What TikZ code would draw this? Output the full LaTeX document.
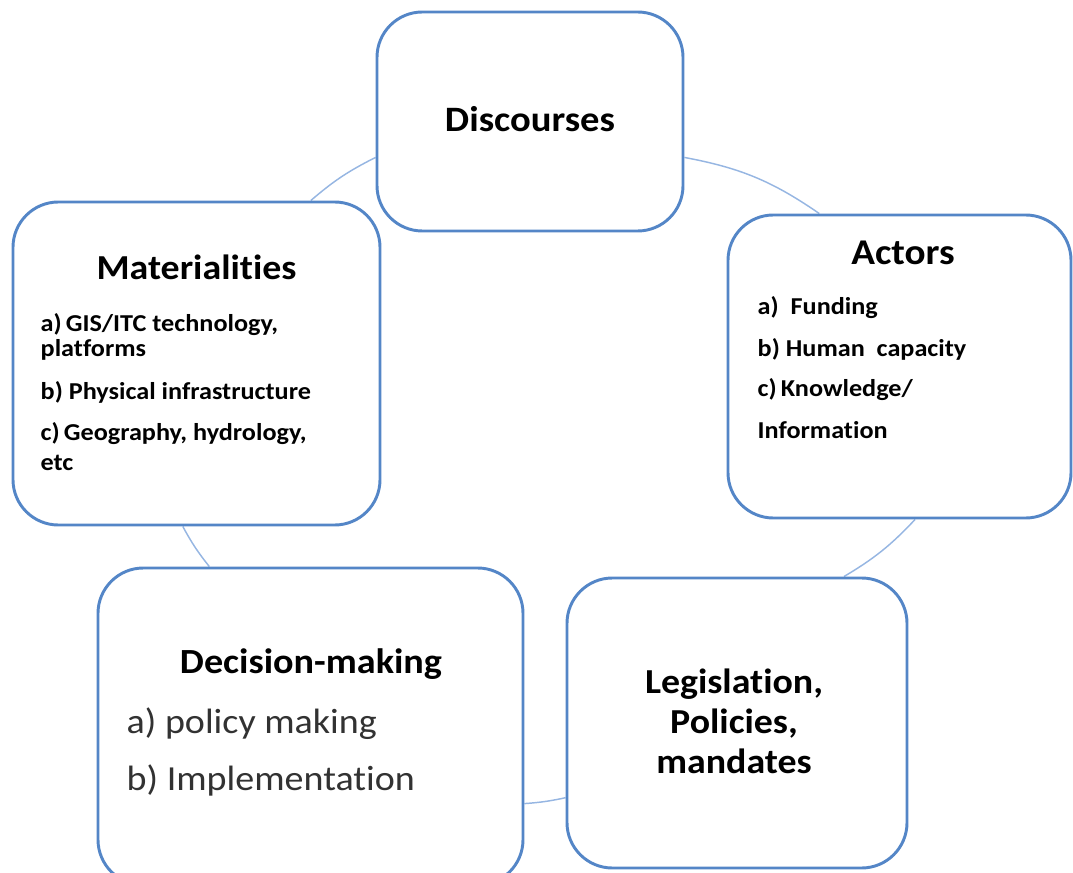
\documentclass[tikz,border=0pt]{standalone}
\usepackage{fontspec}
\setmainfont{Carlito}[FakeStretch=1.08, Ligatures=NoCommon]
\usetikzlibrary{calc,backgrounds}
\definecolor{boxblue}{RGB}{84,134,199}
\definecolor{linkblue}{RGB}{150,182,226}
\definecolor{itemgray}{RGB}{50,50,50}

\begin{document}
\begin{tikzpicture}[x=0.75pt,y=0.75pt,
  panel/.style={draw=boxblue, line width=2.2pt, fill=white, rounded corners=34pt, inner sep=0pt},
  link/.style={draw=linkblue, line width=1.1pt},
  headbig/.style={anchor=base, font=\bfseries\fontsize{26.8}{32}\selectfont},
  headmid/.style={anchor=base, font=\bfseries\fontsize{26.5}{31}\selectfont},
  smallitem/.style={anchor=base west, font=\bfseries\fontsize{18.2}{22}\selectfont},
  largeitem/.style={anchor=base west, text=itemgray, font=\fontsize{26.4}{31}\selectfont},
]
\useasboundingbox (0,0) rectangle (1073,872);
\clip (0,0) rectangle (1073,872);

% the five panels of the cycle
\node[panel, minimum width=229.5pt, minimum height=164.25pt] (disc) at (530,750.5) {};
\node[panel, minimum width=275.25pt, minimum height=242.25pt] (mat) at (196.5,508.5) {};
\node[panel, minimum width=257.25pt, minimum height=227.25pt] (act) at (899.5,505.5) {};
\node[panel, minimum width=318.75pt, minimum height=237.75pt] (dec) at (310.5,145.5) {};
\node[panel, minimum width=255pt, minimum height=217.5pt] (leg) at (737,149) {};

% thin arcs linking neighbouring panels
\begin{pgfonlayer}{background}
\draw[link] ($(mat.north west)!0.809!(mat.north east)$) to[bend left=7] ($(disc.north west)!0.662!(disc.south west)$);
\draw[link] ($(disc.north east)!0.662!(disc.south east)$) to[bend left=12] ($(act.north west)!0.268!(act.north east)$);
\draw[link] ($(act.south west)!0.545!(act.south east)$) to[bend left=8] ($(leg.north west)!0.812!(leg.north east)$);
\draw[link] ($(leg.north west)!0.755!(leg.south west)$) to[bend left=4] ($(dec.north east)!0.741!(dec.south east)$);
\draw[link] ($(dec.north west)!0.2635!(dec.north east)$) to[bend left=5] ($(mat.south west)!0.463!(mat.south east)$);
\end{pgfonlayer}

% Discourses
\node[headbig] (discT) at (530,740) {Discourses};

% Materialities
\node[headmid, font=\bfseries\fontsize{26.3}{31}\selectfont] (matT) at (196.5,592) {Materialities};
\node[smallitem] (m1) at (36,540.3) {a)\,GIS/ITC technology,};
\node[smallitem] (m2) at (36,515.3) {platforms};
\node[smallitem] (m3) at (36,473) {b) Physical infrastructure};
\node[smallitem] (m4) at (36,432) {c)\,Geography, hydrology,};
\node[smallitem] (m5) at (36,402) {etc};

% Actors
\node[headmid, font=\bfseries\fontsize{27.2}{32}\selectfont] (actT) at (903,607) {Actors};
\node[smallitem] (a1) at (753,557) {a)\ \ Funding};
\node[smallitem] (a2) at (753,515) {b) Human\ \ capacity};
\node[smallitem] (a3) at (753,475) {c)\,Knowledge/};
\node[smallitem] (a4) at (753,434) {Information};

% Decision-making
\node[headmid] (decT) at (311,199) {Decision-making};
\node[largeitem] (d1) at (122,139) {a) policy making};
\node[largeitem] (d2) at (122,82) {b) Implementation};

% Legislation
\node[headbig, font=\bfseries\fontsize{26.3}{32}\selectfont] (leg1) at (734,179) {Legislation,};
\node[headbig, font=\bfseries\fontsize{26.3}{32}\selectfont] (leg2) at (734,139) {Policies,};
\node[headbig, font=\bfseries\fontsize{26.3}{32}\selectfont] (leg3) at (734,99) {mandates};
\end{tikzpicture}
\end{document}
